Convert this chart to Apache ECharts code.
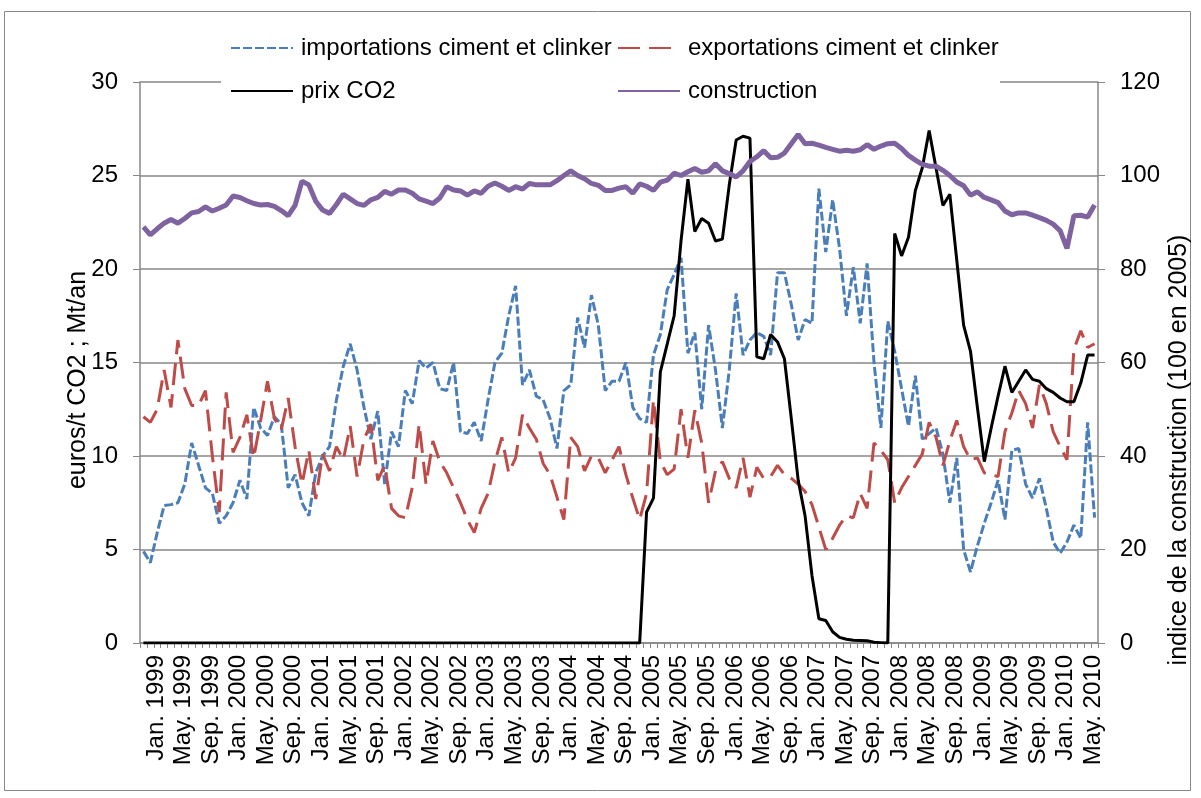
<!DOCTYPE html>
<html>
<head>
<meta charset="utf-8">
<script src="https://cdn.jsdelivr.net/npm/echarts@6/dist/echarts.min.js"></script>
<style>
  html, body { margin: 0; padding: 0; background: #fff; }
  #chart { width: 1201px; height: 798px; }
</style>
</head>
<body>
<div id="chart"></div>
<script>
// month names used on the category axis (Jan. 1999 .. Jul. 2010)
const monthNames = ['Jan.', 'Feb.', 'Mar.', 'Apr.', 'May.', 'Jun.', 'Jul.', 'Aug.', 'Sep.', 'Oct.', 'Nov.', 'Dec.'];
const firstYear = 1999;
const nMonths = 139;

// importations ciment et clinker (Mt/an)
const imports = [
  4.9, 4.3, 5.9, 7.35, 7.4, 7.5, 8.5, 10.7, 9.5, 8.3, 8.0, 6.4, 6.8, 7.5, 8.7, 7.7, 12.6, 11.5, 11.1, 12.1,
  11.7, 8.3, 9.0, 7.5, 6.8, 9.1, 10.0, 10.5, 13.0, 14.8, 16.0, 14.6, 12.6, 10.9, 12.4, 8.5, 11.3, 10.5, 13.5, 12.8,
  15.1, 14.7, 15.0, 13.6, 13.5, 15.0, 11.3, 11.2, 11.8, 10.8, 13.0, 15.0, 15.5, 17.5, 19.1, 13.8, 14.6, 13.2, 13.0, 12.0,
  10.4, 13.5, 13.8, 17.4, 15.8, 18.6, 17.0, 13.5, 14.0, 14.0, 15.0, 12.6, 12.0, 11.8, 15.4, 16.5, 18.9, 19.7, 20.6, 15.5,
  16.6, 12.5, 17.0, 14.6, 11.5, 14.6, 18.7, 15.4, 16.2, 16.6, 16.4, 15.4, 19.8, 19.8, 18.1, 16.2, 17.3, 17.1, 24.3, 20.9,
  23.7, 21.1, 17.5, 20.1, 17.1, 20.3, 15.0, 11.5, 17.2, 15.6, 13.6, 11.6, 14.3, 10.9, 11.2, 11.5, 10.1, 7.5, 9.9, 5.0,
  3.8, 5.2, 6.4, 7.5, 8.7, 6.6, 10.3, 10.4, 8.5, 7.75, 8.8, 7.2, 5.4, 4.8, 5.4, 6.3, 5.6, 11.8, 6.7
];

// exportations ciment et clinker (Mt/an)
const exports = [
  12.1, 11.8, 12.5, 14.6, 12.6, 16.2, 13.6, 12.7, 12.7, 13.5, 10.0, 7.0, 13.4, 10.2, 11.0, 12.2, 9.9, 11.9, 14.0, 12.0,
  11.4, 13.1, 10.5, 8.5, 10.3, 7.7, 10.1, 9.2, 10.5, 9.8, 11.6, 8.9, 10.9, 11.7, 8.7, 9.5, 7.2, 6.8, 6.7, 8.3,
  11.7, 8.5, 10.8, 9.7, 9.1, 8.3, 7.5, 6.6, 5.9, 7.2, 8.0, 9.7, 11.0, 9.1, 9.9, 12.2, 11.5, 10.9, 9.6, 9.0,
  7.8, 6.6, 11.0, 10.5, 9.2, 10.0, 9.9, 9.1, 9.8, 10.5, 9.0, 7.75, 6.6, 8.0, 13.0, 9.7, 9.0, 9.3, 12.5, 9.9,
  12.45, 10.7, 7.5, 9.2, 9.7, 8.8, 8.3, 9.9, 7.8, 9.4, 8.8, 8.9, 9.5, 9.0, 8.8, 8.5, 8.1, 7.4, 6.2, 5.0,
  5.6, 6.3, 6.8, 6.7, 8.0, 7.2, 10.7, 10.3, 9.8, 7.5, 8.3, 8.9, 9.5, 10.1, 11.8, 11.0, 9.5, 10.8, 11.9, 10.5,
  9.8, 9.9, 9.1, 9.0, 8.9, 11.3, 12.3, 13.5, 12.8, 11.5, 13.8, 12.8, 11.3, 10.5, 9.8, 15.7, 16.7, 15.8, 16.0
];

// prix CO2 (euros/t CO2)
const co2 = [
  0, 0, 0, 0, 0, 0, 0, 0, 0, 0, 0, 0, 0, 0, 0, 0, 0, 0, 0, 0,
  0, 0, 0, 0, 0, 0, 0, 0, 0, 0, 0, 0, 0, 0, 0, 0, 0, 0, 0, 0,
  0, 0, 0, 0, 0, 0, 0, 0, 0, 0, 0, 0, 0, 0, 0, 0, 0, 0, 0, 0,
  0, 0, 0, 0, 0, 0, 0, 0, 0, 0, 0, 0, 0, 7.0, 7.75, 14.5, 16.0, 17.5, 21.5, 24.8,
  22.0, 22.7, 22.45, 21.5, 21.6, 24.5, 26.9, 27.1, 27.0, 15.3, 15.2, 16.5, 16.1, 15.2, 12.0, 8.7, 6.8, 3.6, 1.3, 1.2,
  0.6, 0.3, 0.2, 0.15, 0.14, 0.12, 0.04, 0.02, 0, 21.9, 20.7, 21.7, 24.2, 25.4, 27.4, 25.4, 23.4, 24.0, 20.5, 17.0,
  15.6, 12.6, 9.7, 11.5, 13.2, 14.8, 13.4, 14.0, 14.6, 14.1, 14.0, 13.6, 13.4, 13.1, 12.9, 12.9, 13.9, 15.4, 15.4
];

// construction (indice, 100 en 2005)
const construction = [
  89, 87.3, 88.6, 89.8, 90.6, 89.8, 90.8, 92, 92.3, 93.3, 92.4, 93, 93.7, 95.6, 95.3, 94.6, 94, 93.7, 93.8, 93.4,
  92.5, 91.4, 93.6, 98.8, 98, 94.5, 92.6, 91.9, 93.8, 96, 95, 94, 93.6, 94.8, 95.3, 96.6, 96, 96.9, 96.9, 96.2,
  95, 94.5, 94, 95.2, 97.6, 96.9, 96.7, 95.8, 96.7, 96.2, 97.7, 98.4, 97.7, 96.8, 97.6, 97.1, 98.3, 98, 98, 98,
  98.9, 100, 101, 100, 99.3, 98.3, 97.9, 96.8, 96.8, 97.3, 97.6, 96.2, 98.2, 97.7, 96.8, 98.6, 99, 100.5, 100, 100.8,
  101.5, 100.7, 101, 102.5, 101, 100.4, 99.7, 101, 103, 104, 105.3, 103.8, 103.9, 104.8, 106.8, 108.8, 106.8, 106.9, 106.5, 106,
  105.6, 105.2, 105.4, 105.2, 105.5, 106.6, 105.6, 106.3, 106.8, 106.9, 105.8, 104.3, 103.3, 102.4, 102, 102, 101.1, 100, 98.6, 97.8,
  95.8, 96.5, 95.3, 94.8, 94.2, 92.4, 91.6, 92, 92, 91.5, 91, 90.4, 89.6, 88.2, 84.4, 91.4, 91.5, 91.1, 93.7
];

const categories = [];
for (let k = 0; k < nMonths; k++) {
  categories.push(monthNames[k % 12] + ' ' + (firstYear + Math.floor(k / 12)));
}

const font = 'Liberation Sans, Arial, sans-serif';
const fs = 24;
const gray = '#878787';

const chart = echarts.init(document.getElementById('chart'));

function legendItem(name, left, top) {
  return {
    data: [name],
    left: left,
    top: top,
    padding: 0,
    itemWidth: 62,
    itemHeight: 14,
    itemGap: 0,
    selectedMode: false,
    itemStyle: { opacity: 0 },
    textStyle: { fontFamily: font, fontSize: fs, color: '#000', padding: [0, 0, 0, 3] }
  };
}

function axisTitle(text, x, y) {
  return {
    type: 'text',
    x: x,
    y: y,
    rotation: Math.PI / 2,
    z: 10,
    style: {
      text: text,
      fontFamily: font,
      fontSize: 25,
      fill: '#000',
      align: 'center',
      verticalAlign: 'middle',
      textAlign: 'center',
      textVerticalAlign: 'middle'
    }
  };
}

const option = {
  backgroundColor: '#fff',
  animation: false,
  grid: { left: 140, right: 103, top: 82, bottom: 155 },
  legend: [
    legendItem('importations ciment et clinker', 230, 36),
    legendItem('exportations ciment et clinker', 617, 36),
    legendItem('prix CO2', 230, 79),
    legendItem('construction', 617, 79)
  ],
  graphic: [
    {
      type: 'rect',
      z: -1,
      shape: { x: 4.5, y: 11.5, width: 1186, height: 779 },
      style: { fill: '#fff', stroke: gray, lineWidth: 1 }
    },
    {
      type: 'rect',
      z: 3,
      shape: { x: 221, y: 24, width: 779, height: 86 },
      style: { fill: '#fff' }
    },
    axisTitle('euros/t CO2 ; Mt/an', 78, 380),
    axisTitle('indice de la construction (100 en 2005)', 1179, 450)
  ],
  xAxis: {
    type: 'category',
    data: categories,
    boundaryGap: true,
    axisLine: { lineStyle: { color: gray, width: 1.5 } },
    axisTick: { show: true, interval: 0, length: 5, lineStyle: { color: gray } },
    axisLabel: {
      interval: 3,
      rotate: 90,
      margin: 12,
      verticalAlign: 'top',
      lineHeight: 25,
      fontFamily: font,
      fontSize: fs,
      color: '#000'
    },
    splitLine: { show: false }
  },
  yAxis: [
    {
      type: 'value',
      min: 0,
      max: 30,
      interval: 5,
      axisLine: { show: true, lineStyle: { color: gray, width: 1.5 } },
      axisTick: { show: true, length: 7, lineStyle: { color: gray } },
      axisLabel: { margin: 22, fontFamily: font, fontSize: fs, color: '#000' },
      splitLine: { show: true, lineStyle: { color: gray, width: 1.5 } }
    },
    {
      type: 'value',
      position: 'right',
      min: 0,
      max: 120,
      interval: 20,
      axisLine: { show: true, lineStyle: { color: gray, width: 1.5 } },
      axisTick: { show: true, length: 7, lineStyle: { color: gray } },
      axisLabel: { margin: 22, fontFamily: font, fontSize: fs, color: '#000' },
      splitLine: { show: false }
    }
  ],
  series: [
    {
      name: 'importations ciment et clinker',
      type: 'line',
      yAxisIndex: 0,
      data: imports,
      symbol: 'none',
      z: 2,
      itemStyle: { color: '#4a7ebb' },
      lineStyle: { color: '#4a7ebb', width: 3, type: [9, 3] }
    },
    {
      name: 'exportations ciment et clinker',
      type: 'line',
      yAxisIndex: 0,
      data: exports,
      symbol: 'none',
      z: 3,
      itemStyle: { color: '#be4b48' },
      lineStyle: { color: '#be4b48', width: 3, type: [22, 9] }
    },
    {
      name: 'prix CO2',
      type: 'line',
      yAxisIndex: 0,
      data: co2,
      symbol: 'none',
      z: 4,
      itemStyle: { color: '#000' },
      lineStyle: { color: '#000', width: 3 }
    },
    {
      name: 'construction',
      type: 'line',
      yAxisIndex: 1,
      data: construction,
      symbol: 'none',
      z: 5,
      itemStyle: { color: '#7f63a1' },
      lineStyle: { color: '#7f63a1', width: 5 }
    }
  ]
};

chart.setOption(option);
</script>
</body>
</html>
